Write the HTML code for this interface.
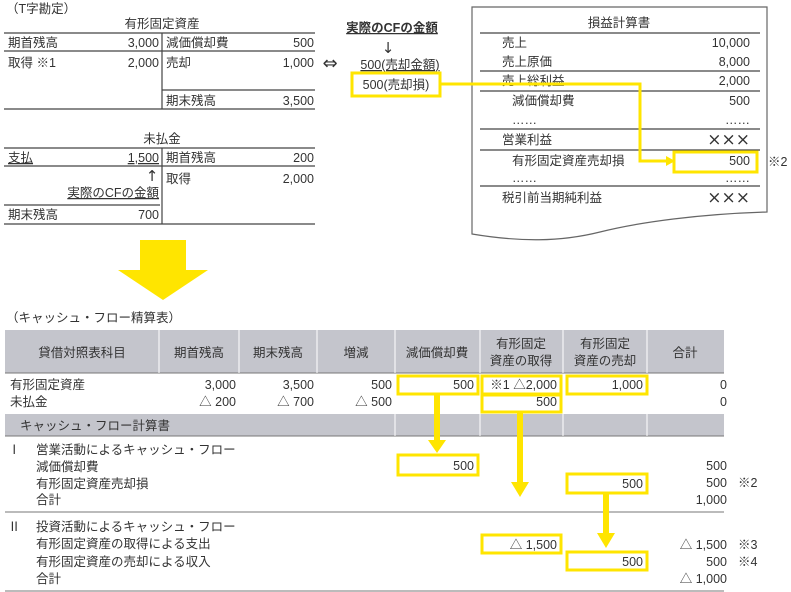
<!DOCTYPE html>
<html><head><meta charset="utf-8"><style>
html,body{margin:0;padding:0;background:#fff;}
svg{display:block;font-family:"Liberation Sans","Noto Sans CJK JP",sans-serif;font-size:12.5px;fill:#333;}
.sym{font-family:"DejaVu Sans",sans-serif;}
</style></head><body>
<svg width="791" height="592" viewBox="0 0 791 592" xmlns="http://www.w3.org/2000/svg">
<g stroke="#444" stroke-width="1.2" fill="none">
<line x1="4" y1="33" x2="315" y2="33"/><line x1="4" y1="51" x2="315" y2="51"/>
<line x1="162" y1="33" x2="162" y2="109"/><line x1="162" y1="90" x2="315" y2="90"/>
<line x1="4" y1="109" x2="315" y2="109"/>
<line x1="4" y1="148" x2="315" y2="148"/><line x1="4" y1="166" x2="315" y2="166"/>
<line x1="162" y1="148" x2="162" y2="224"/><line x1="4" y1="205" x2="160" y2="205"/>
<line x1="4" y1="224" x2="315" y2="224"/>
<path d="M472 7 H767 V212 C700 214 640 222 600 232 C560 242 520 242 472 234 Z" stroke="#666"/>
<line x1="480" y1="33" x2="760" y2="33"/><line x1="480" y1="71" x2="760" y2="71"/>
<line x1="480" y1="91" x2="760" y2="91"/><line x1="480" y1="129" x2="760" y2="129"/>
<line x1="480" y1="150" x2="760" y2="150"/><line x1="480" y1="186" x2="760" y2="186"/>
</g>
<text x="6" y="13">（T字勘定）</text>
<text x="162" y="28" text-anchor="middle">有形固定資産</text>
<text x="8" y="47">期首残高</text><text x="159" y="47" text-anchor="end">3,000</text>
<text x="166" y="47">減価償却費</text><text x="314" y="47" text-anchor="end">500</text>
<text x="8" y="67">取得 ※1</text><text x="159" y="67" text-anchor="end">2,000</text>
<text x="166" y="67">売却</text><text x="314" y="67" text-anchor="end">1,000</text>
<text x="166" y="105">期末残高</text><text x="314" y="105" text-anchor="end">3,500</text>
<text x="162" y="143" text-anchor="middle">未払金</text>
<text x="8" y="162" text-decoration="underline">支払</text><text x="159" y="162" text-anchor="end" text-decoration="underline">1,500</text>
<text x="166" y="162">期首残高</text><text x="314" y="162" text-anchor="end">200</text>
<text x="152" y="181" text-anchor="middle" class="sym" font-size="15">↑</text>
<text x="159" y="197" text-anchor="end" text-decoration="underline">実際のCFの金額</text>
<text x="166" y="183">取得</text><text x="314" y="183" text-anchor="end">2,000</text>
<text x="8" y="219">期末残高</text><text x="159" y="219" text-anchor="end">700</text>
<text x="330" y="69" text-anchor="middle" class="sym" font-size="18">⇔</text>
<text x="392" y="32" text-anchor="middle" font-weight="bold" text-decoration="underline">実際のCFの金額</text>
<text x="388" y="53" text-anchor="middle" class="sym" font-size="15">↓</text>
<text x="400" y="69" text-anchor="middle" text-decoration="underline">500(売却金額)</text>
<text x="396" y="89" text-anchor="middle">500(売却損)</text>
<text x="619" y="27" text-anchor="middle">損益計算書</text>
<text x="502" y="47">売上</text><text x="750" y="47" text-anchor="end">10,000</text>
<text x="502" y="66">売上原価</text><text x="750" y="66" text-anchor="end">8,000</text>
<text x="502" y="85">売上総利益</text><text x="750" y="85" text-anchor="end">2,000</text>
<text x="512" y="105">減価償却費</text><text x="750" y="105" text-anchor="end">500</text>
<text x="512" y="124">……</text><text x="750" y="124" text-anchor="end">……</text>
<text x="502" y="144">営業利益</text><text x="750" y="145" text-anchor="end" font-size="17" class="sym">×××</text>
<text x="512" y="165">有形固定資産売却損</text><text x="750" y="165" text-anchor="end">500</text>
<text x="512" y="182">……</text><text x="750" y="182" text-anchor="end">……</text>
<text x="502" y="202">税引前当期純利益</text><text x="750" y="203" text-anchor="end" font-size="17" class="sym">×××</text>
<text x="768" y="166">※2</text>
<g stroke="#ffe500" stroke-width="3" fill="none">
<rect x="352" y="73" width="88" height="23"/>
<polyline points="440,84 640,84 640,161 666,161"/>
<rect x="674" y="152" width="83" height="20"/>
</g>
<polygon points="666,156 675,161 666,166" fill="#ffe500"/>
<polygon points="140,240 186,240 186,270 208,270 163,300 118,270 140,270" fill="#ffe500"/>
<text x="6" y="322">（キャッシュ・フロー精算表）</text>
<rect x="5" y="330" width="719" height="43" fill="#c4c5cc"/>
<line x1="5" y1="373" x2="724" y2="373" stroke="#777" stroke-width="1"/>
<rect x="5" y="414" width="719" height="22" fill="#c4c5cc"/>
<line x1="5" y1="436" x2="724" y2="436" stroke="#777" stroke-width="1"/>
<g stroke="#fff" stroke-width="1">
<line x1="159" y1="330" x2="159" y2="373"/><line x1="239" y1="330" x2="239" y2="373"/>
<line x1="317" y1="330" x2="317" y2="373"/><line x1="395" y1="330" x2="395" y2="373"/>
<line x1="480" y1="330" x2="480" y2="373"/><line x1="563" y1="330" x2="563" y2="373"/>
<line x1="647" y1="330" x2="647" y2="373"/>
<line x1="395" y1="414" x2="395" y2="436"/><line x1="480" y1="414" x2="480" y2="436"/>
<line x1="563" y1="414" x2="563" y2="436"/><line x1="647" y1="414" x2="647" y2="436"/>
</g>
<line x1="5" y1="512" x2="724" y2="512" stroke="#777"/>
<line x1="5" y1="591" x2="724" y2="591" stroke="#777"/>
<g text-anchor="middle">
<text x="82" y="357">貸借対照表科目</text><text x="199" y="357">期首残高</text>
<text x="278" y="357">期末残高</text><text x="356" y="357">増減</text>
<text x="437" y="357">減価償却費</text>
<text x="521" y="348">有形固定</text><text x="521" y="365">資産の取得</text>
<text x="605" y="348">有形固定</text><text x="605" y="365">資産の売却</text>
<text x="685" y="357">合計</text>
</g>
<text x="10" y="389">有形固定資産</text><text x="10" y="406">未払金</text>
<g text-anchor="end">
<text x="236" y="389">3,000</text><text x="314" y="389">3,500</text><text x="392" y="389">500</text>
<text x="474" y="389">500</text><text x="557" y="389">※1 △2,000</text><text x="643" y="389">1,000</text><text x="727" y="389">0</text>
<text x="236" y="406">△ 200</text><text x="314" y="406">△ 700</text><text x="392" y="406">△ 500</text>
<text x="557" y="406">500</text><text x="727" y="406">0</text>
</g>
<text x="20" y="430">キャッシュ・フロー計算書</text>
<text x="8" y="454">Ⅰ</text><text x="36" y="454">営業活動によるキャッシュ・フロー</text>
<text x="36" y="471">減価償却費</text><text x="36" y="488">有形固定資産売却損</text><text x="36" y="504">合計</text>
<text x="8" y="531">Ⅱ</text><text x="36" y="531">投資活動によるキャッシュ・フロー</text>
<text x="36" y="548">有形固定資産の取得による支出</text><text x="36" y="566">有形固定資産の売却による収入</text><text x="36" y="583">合計</text>
<g text-anchor="end">
<text x="474" y="470">500</text><text x="643" y="488">500</text><text x="557" y="549">△ 1,500</text><text x="643" y="566">500</text>
<text x="727" y="470">500</text><text x="727" y="487">500</text><text x="727" y="504">1,000</text>
<text x="727" y="549">△ 1,500</text><text x="727" y="566">500</text><text x="727" y="583">△ 1,000</text>
</g>
<text x="738" y="487">※2</text><text x="738" y="549">※3</text><text x="738" y="566">※4</text>
<g stroke="#ffe500" stroke-width="3" fill="none">
<rect x="398" y="376" width="80" height="18"/><rect x="482" y="376" width="79" height="18"/>
<rect x="567" y="376" width="80" height="18"/><rect x="482" y="395" width="79" height="17"/>
<rect x="398" y="455" width="80" height="20"/><rect x="567" y="474" width="80" height="19"/>
<rect x="482" y="535" width="79" height="18"/><rect x="567" y="552" width="80" height="18"/>
</g>
<g fill="#ffe500">
<rect x="434" y="394" width="6" height="46"/><polygon points="428,440 446,440 437,453"/>
<rect x="517" y="412" width="6" height="70"/><polygon points="511,482 529,482 520,497"/>
<rect x="603" y="493" width="6" height="40"/><polygon points="597,533 615,533 606,548"/>
</g>
</svg>
</body></html>
